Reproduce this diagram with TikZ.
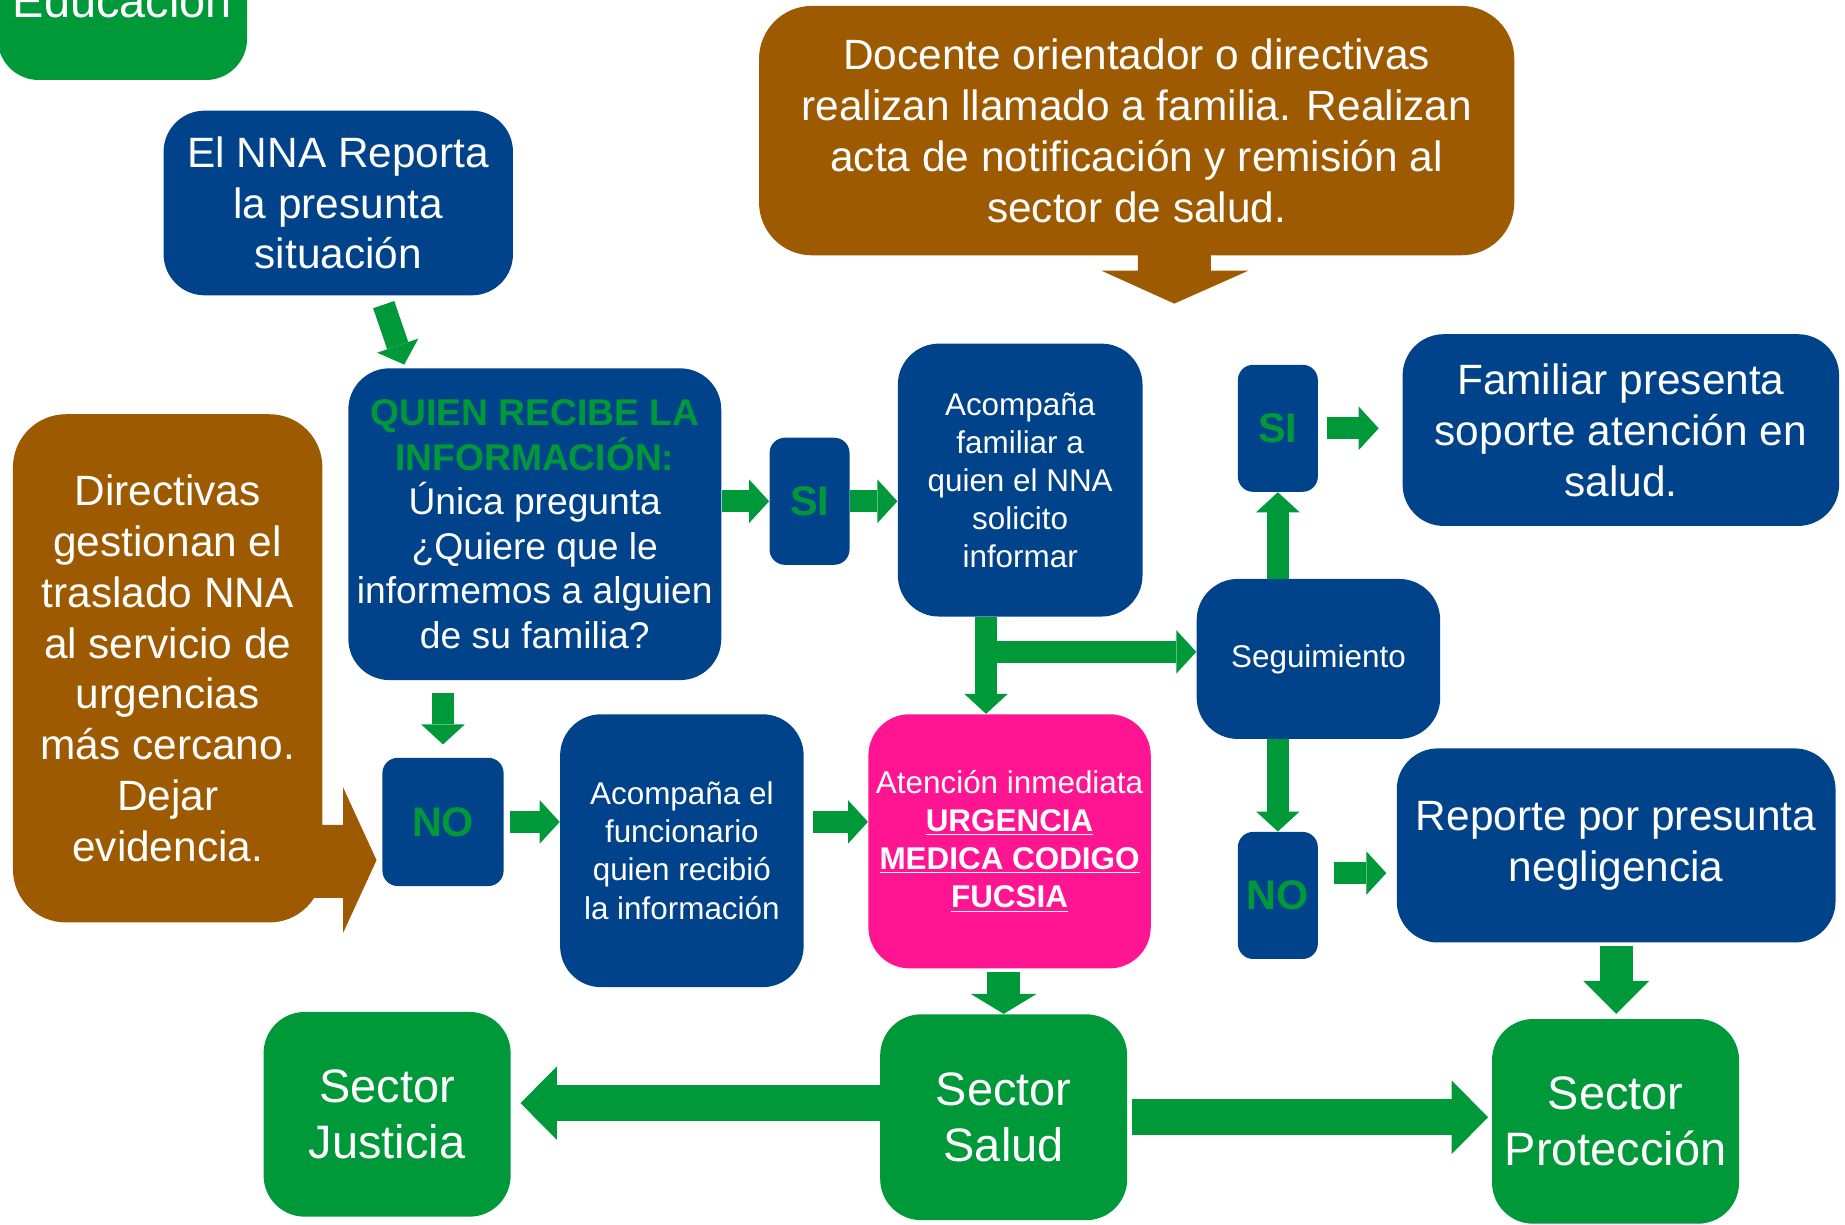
\documentclass[tikz,border=0pt]{standalone}
\usepackage{fontspec}
\setmainfont{Liberation Sans}
\usetikzlibrary{arrows.meta}
\definecolor{verde}{RGB}{0,153,58}
\definecolor{azul}{RGB}{0,67,138}
\definecolor{cafe}{RGB}{158,90,0}
\definecolor{fucsia}{RGB}{255,20,145}

\begin{document}
\begin{tikzpicture}[x=0.02cm, y=-0.02cm,
    caja/.style={fill=azul, text=white, rounded corners=0.7cm, inner sep=0pt, align=center},
    grande/.style={font=\fontsize{20.5pt}{24.6pt}\selectfont},
    medio/.style={font=\fontsize{15.2pt}{18.4pt}\selectfont},
    sector/.style={caja, fill=verde, font=\fontsize{22.7pt}{27.2pt}\selectfont},
    marron/.style={caja, fill=cafe, grande, rounded corners=0.9cm},
    sino/.style={caja, rounded corners=0.26cm, text=verde, font=\fontsize{20pt}{24pt}\selectfont\bfseries,
      minimum width=1.36cm, minimum height=2.16cm},
    flecha/.style={draw=verde, line width=0.38cm, -{Triangle[width=0.74cm, length=0.34cm, line width=0pt]}},
    flechamedia/.style={draw=verde, line width=0.56cm, -{Triangle[width=1.12cm, length=#1, line width=0pt]}},
    flechamedia/.default=0.56cm,
    flechagrande/.style={draw=verde, line width=0.62cm, -{Triangle[width=1.25cm, length=0.62cm, line width=0pt]}}]
    \useasboundingbox (0,0) rectangle (1568,1041);
    \clip (0,0) rectangle (1568,1041);

    \node[sector, minimum width=4.24cm, minimum height=2.72cm] (edu) at (104,0) {Educación};
    \node[caja, grande, minimum width=5.94cm, minimum height=3.14cm] (nna) at (287.5,172.5)
      {El NNA Reporta\\la presunta\\situación};
    \node[marron, minimum width=12.84cm, minimum height=4.24cm] (doc) at (966,111)
      {Docente orientador o directivas\\realizan llamado a familia. Realizan\\acta de notificación y remisión al\\sector de salud.};
    \fill[cafe] (967,210) -- (967,230) -- (936,230) -- (998,258) -- (1061,230) -- (1029,230) -- (1029,210) -- cycle;
    \node[marron, minimum width=5.26cm, minimum height=8.64cm] (dir) at (142.5,568)
      {Directivas\\gestionan el\\traslado NNA\\al servicio de\\urgencias\\más cercano.\\Dejar\\evidencia.};
    \fill[cafe] (262,701) -- (291.5,701) -- (291.5,669) -- (320,731) -- (291.5,793) -- (291.5,763) -- (262,763) -- cycle;
    \node[caja, font=\fontsize{18pt}{21.5pt}\selectfont, minimum width=6.34cm, minimum height=5.3cm] (quien) at (454.5,445.5)
      {\textcolor{verde}{\textbf{QUIEN RECIBE LA}}\\\textcolor{verde}{\textbf{INFORMACIÓN:}}\\Única pregunta\\¿Quiere que le\\informemos a alguien\\de su familia?};
    \node[sino] (si1) at (688,426) {SI};
    \node[caja, medio, minimum width=4.16cm, minimum height=4.64cm] (fam) at (867,408)
      {Acompaña\\familiar a\\quien el NNA\\solicito\\informar};
    \node[sino] (si2) at (1086,364) {SI};
    \node[caja, grande, minimum width=7.42cm, minimum height=3.26cm] (fsal) at (1377.5,365.5)
      {Familiar presenta\\soporte atención en\\salud.};
    \node[caja, medio, minimum width=4.14cm, minimum height=2.72cm] (seg) at (1120.5,560) {Seguimiento};
    \node[sino, minimum width=2.06cm, minimum height=2.18cm] (no1) at (376.5,698.5) {NO};
    \node[caja, medio, minimum width=4.14cm, minimum height=4.64cm] (fun) at (579.5,723)
      {Acompaña el\\funcionario\\quien recibió\\la información};
    \node[caja, medio, fill=fucsia, minimum width=4.8cm, minimum height=4.32cm] (urg) at (858,715)
      {Atención inmediata\\\textbf{\underline{URGENCIA}}\\\textbf{\underline{MEDICA CODIGO}}\\\textbf{\underline{FUCSIA}}};
    \node[sino] (no2) at (1086,761) {NO};
    \node[caja, grande, minimum width=7.46cm, minimum height=3.3cm] (rep) at (1373.5,718.5)
      {Reporte por presunta\\negligencia};
    \node[sector, minimum width=4.2cm, minimum height=3.48cm] (just) at (329,947) {Sector\\Justicia};
    \node[sector, minimum width=4.2cm, minimum height=3.5cm] (salud) at (853,949.5) {Sector\\Salud};
    \node[sector, minimum width=4.2cm, minimum height=3.48cm] (prot) at (1373,953) {Sector\\Protección};

    \coordinate (ramal) at (838,554);
    \coordinate (pno) at ([yshift=0.38cm]no2.east);
    \coordinate (pju) at ([yshift=0.24cm]salud.west);

    \draw[flecha, shorten <=0.16cm, shorten >=0.06cm] ([xshift=0.72cm]nna.south) -- ([xshift=-2.2cm]quien.north);
    \draw[flecha] (quien.east |- si1) -- (si1.west);
    \draw[flecha] (si1.east) -- (fam.west |- si1);
    \draw[flecha] (ramal |- fam.south) -- (ramal |- urg.north);
    \draw[flecha] (ramal) -- (seg.west |- ramal);
    \draw[flecha] (seg.north -| si2) -- (si2.south);
    \draw[flecha, shorten <=0.14cm, shorten >=0.4cm] (si2.east) -- (fsal.west |- si2.east);
    \draw[flecha] (seg.south -| no2) -- (no2.north);
    \draw[flecha, shorten <=0.26cm, shorten >=0.17cm] (pno) -- (pno -| rep.west);
    \draw[flechamedia, shorten <=0.06cm, shorten >=0.08cm] (rep.south) -- (rep.south |- prot.north);
    \draw[flecha, shorten <=0.22cm, shorten >=0.22cm] (no1.north |- quien.south) -- (no1.north);
    \draw[flecha, shorten <=0.1cm] (no1.east) -- (fun.west |- no1.east);
    \draw[flecha, shorten <=0.16cm] (fun.east |- no1.east) -- (urg.west |- no1.east);
    \draw[flechamedia=0.34cm, shorten <=0.06cm] (salud.north |- urg.south) -- (salud.north);
    \draw[flechagrande, shorten >=0.16cm] (pju) -- (pju -| just.east);
    \draw[flechagrande, shorten <=0.08cm, shorten >=0.06cm] (salud.east) -- (salud.east -| prot.west);
\end{tikzpicture}
\end{document}
